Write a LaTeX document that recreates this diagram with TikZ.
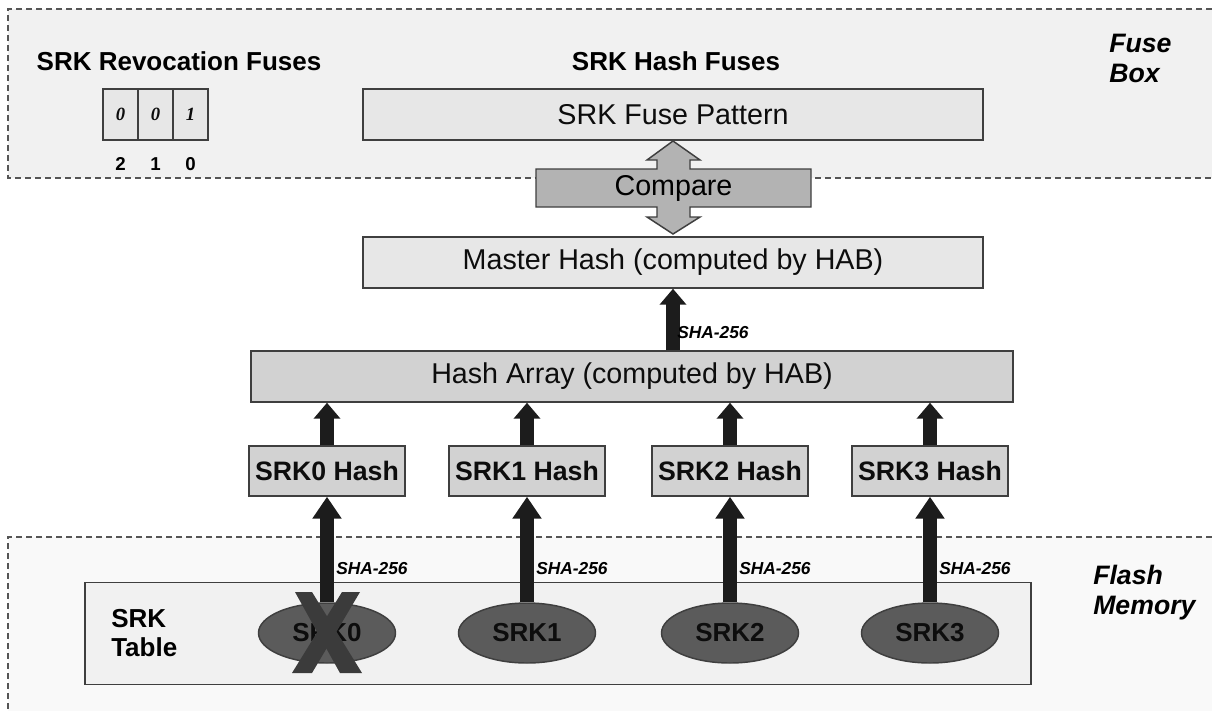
\documentclass[tikz,border=0pt]{standalone}
\usepackage{fontspec}
\setmainfont{Liberation Sans}
\newfontfamily\fuseserif{Liberation Serif}
\usetikzlibrary{
  arrows.meta,
  shapes.geometric,
  positioning,
  calc
}
\definecolor{hbLine}{HTML}{3F3F3F}
\definecolor{hbDash}{HTML}{555555}
\definecolor{hbFuse}{HTML}{F1F1F1}
\definecolor{hbFlash}{HTML}{F9F9F9}
\definecolor{hbPale}{HTML}{E7E7E7}
\definecolor{hbMid}{HTML}{D2D2D2}
\definecolor{hbCmp}{HTML}{B3B3B3}
\definecolor{hbKey}{HTML}{5B5B5B}
\definecolor{hbCross}{HTML}{3B3B3B}
\definecolor{hbArrow}{HTML}{1C1C1C}
\tikzset{
  hbnode/.style={
    draw=hbLine, line width=1.1pt, inner sep=0pt, text=black!95,
    font=\fontsize{21.5}{24}\selectfont
  },
  widebox/.style={hbnode, fill=hbPale, minimum width=465pt, minimum height=38.25pt},
  arraybox/.style={hbnode, fill=hbMid, minimum width=571.5pt, minimum height=38.25pt},
  srkhash/.style={hbnode, fill=hbMid, minimum width=117pt, minimum height=37.5pt,
    font=\bfseries\fontsize{20}{24}\selectfont},
  srkkey/.style={hbnode, ellipse, fill=hbKey, minimum width=102.75pt, minimum height=45pt,
    font=\bfseries\fontsize{19.5}{24}\selectfont},
  srktable/.style={hbnode, fill=hbFuse, minimum width=709.5pt, minimum height=76.5pt},
  fusecell/.style={hbnode, fill=hbPale, line width=0.9pt, minimum width=26.25pt,
    minimum height=38.25pt, font=\fuseserif\bfseries\itshape\fontsize{14}{16}\selectfont},
  bitnum/.style={inner sep=0pt, font=\bfseries\fontsize{14}{16}\selectfont},
  heading/.style={inner sep=0pt, font=\bfseries\fontsize{19.5}{22}\selectfont},
  tablelabel/.style={inner sep=0pt, align=left, font=\bfseries\fontsize{19.5}{21.75}\selectfont},
  regiontag/.style={inner sep=0pt, align=left, font=\bfseries\itshape\fontsize{20}{22.5}\selectfont},
  shalabel/.style={inner sep=0pt, anchor=west, font=\bfseries\itshape\fontsize{13}{15}\selectfont},
  region/.style={draw=hbDash, line width=0.8pt, dash pattern=on 4.5pt off 3pt},
  hashup/.style={draw=hbArrow, line width=10.5pt, -{Triangle[length=12pt, width=19.5pt]}},
  keyup/.style={draw=hbArrow, line width=10.5pt, -{Triangle[length=16.5pt, width=21pt]}}
}

\begin{document}
\begin{tikzpicture}[x=0.75pt, y=-0.75pt]
  \path[use as bounding box, fill=white] (0,0) rectangle (1212,711);

  % fuse box and flash memory areas
  \fill[hbFuse] (8,9) rectangle (1212,178);
  \draw[region] (1212,9) -- (8,9) -- (8,178) -- (1212,178);
  \fill[hbFlash] (8,537) rectangle (1212,711);
  \draw[region] (1212,537) -- (8,537) -- (8,711);

  \node[regiontag, anchor=north west] (fusetag) at (1109,34) {Fuse\\Box};
  \node[regiontag, anchor=north west] (flashtag) at (1093,565) {Flash\\Memory};

  % revocation fuses
  \node[heading, anchor=base] (revtitle) at (179,70) {SRK Revocation Fuses};
  \foreach \v [count=\k] in {0,0,1}{
    \node[fusecell] (cell\k) at (85.5+35*\k,114.5) {\v};
  }
  \foreach \b [count=\k] in {2,1,0}{
    \node[bitnum, anchor=base] at ($(cell\k.south)+(0,30)$) {\b};
  }

  % hash fuses and compare step
  \node[heading, anchor=base] (hashtitle) at (676,70) {SRK Hash Fuses};
  \node[widebox] (pattern) at (673,114.5) {SRK Fuse Pattern};
  \filldraw[fill=hbCmp, draw=hbLine, line width=1.1pt]
    (673,141) -- (700,160) -- (690,160) -- (690,169) -- (811,169) -- (811,207)
    -- (690,207) -- (690,217) -- (700,217) -- (673,234) -- (647,217) -- (657,217)
    -- (657,207) -- (536,207) -- (536,169) -- (657,169) -- (657,160) -- (647,160) -- cycle;
  \node[inner sep=0pt, font=\fontsize{21.5}{24}\selectfont] (compare) at (673.5,188) {Compare};
  \node[widebox] (master) at (673,262.5) {Master Hash (computed by HAB)};

  \node[arraybox] (harray) at (632,376.5) {Hash Array (computed by HAB)};
  \draw[hashup] (harray.north -| master.south) -- (master.south);
  \node[shalabel] at (677,333) {SHA-256};

  % SRK table
  \node[srktable] (table) at (558,633.5) {};
  \node[tablelabel, anchor=north west] (tabletag) at (111,609) {SRK\\Table};

  \foreach \i/\x in {0/327,1/527,2/730,3/930}{
    \node[srkhash] (hash\i) at (\x,471) {SRK\i\ Hash};
    \node[srkkey] (key\i) at (\x,633) {SRK\i};
    \draw[hashup] (hash\i.north) -- (harray.south -| hash\i.north);
    \draw[keyup] (key\i.north) -- (hash\i.south);
    \node[shalabel] at (\x+9,569) {SHA-256};
  }

  % revoked key
  \fill[hbCross] (295,592) -- (312,592) -- (362,673) -- (340,673) -- cycle;
  \fill[hbCross] (342,592) -- (360,592) -- (312,673) -- (292,673) -- cycle;
\end{tikzpicture}
\end{document}
